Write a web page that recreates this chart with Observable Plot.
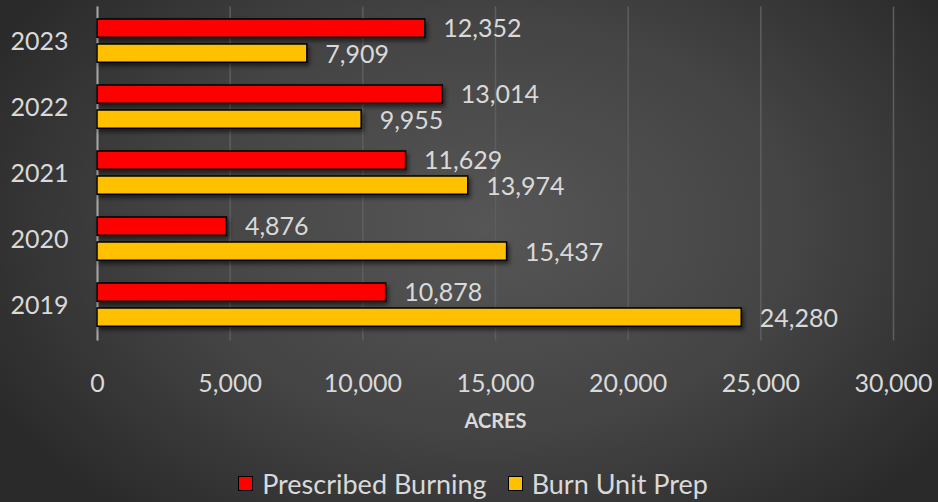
<!DOCTYPE html>
<html><head><meta charset="utf-8">
<script src="https://cdn.jsdelivr.net/npm/d3@7"></script>
<script src="https://cdn.jsdelivr.net/npm/@observablehq/plot@0.6"></script>
<style>
html,body{margin:0;padding:0;width:938px;height:502px;overflow:hidden;}
body{background:radial-gradient(ellipse 60% 75% at 52% 45%, #565656 0%, #444 55%, #2a2a2a 100%);font-family:Lato,"Open Sans",sans-serif;color:#d9d9d9;}
#chart svg{display:block;background:transparent;}
#chart g[aria-label="bar"] rect{filter:drop-shadow(2px 3px 2px rgba(0,0,0,0.55));}
#legend{position:absolute;left:0;top:464px;width:938px;display:flex;justify-content:center;align-items:center;gap:21px;font-size:27px;height:38px;margin-left:4px;}
#legend .item{display:flex;align-items:center;gap:9px;}
#legend .sw{width:13px;height:13px;border:1.5px solid #000;}
</style></head>
<body>
<div id="chart"></div>
<div id="legend"></div>
<script>
const years = ["2023","2022","2021","2020","2019"];
const prescribed = [12352, 13014, 11629, 4876, 10878];
const burnPrep = [7909, 9955, 13974, 15437, 24280];
const seriesNames = ["Prescribed Burning","Burn Unit Prep"];
const seriesColors = ["#ff0000","#ffc000"];
const xTicks = [0,5000,10000,15000,20000,25000,30000];

const rowsP = years.map((y,i)=>({year:y, value:prescribed[i]}));
const rowsB = years.map((y,i)=>({year:y, value:burnPrep[i]}));
const fmt = d3.format(",");
const band = (340.4-6.6)/5;

const plot = Plot.plot({
  width: 938, height: 445,
  marginLeft: 97, marginRight: 45, marginTop: 6.6, marginBottom: 104.6,
  style: {background:"transparent", color:"#d9d9d9", fontFamily:"Lato, 'Open Sans', sans-serif"},
  x: {domain:[0,30000], axis:null},
  y: {domain: years, padding:0, axis:null},
  marks: [
    Plot.gridX(xTicks, {stroke:"#5e5e5e", strokeOpacity:1, strokeWidth:1.5}),
    Plot.ruleX([0], {stroke:"#a6a6a6", strokeWidth:2}),
    Plot.axisY({tickSize:0, tickPadding:29, fontSize:25, fill:"#d9d9d9", label:null}),
    Plot.axisX({ticks:xTicks, tickSize:0, tickPadding:33, fontSize:25, fill:"#d9d9d9", tickFormat:fmt, label:null}),
    Plot.text(["ACRES"], {frameAnchor:"bottom", dy:87, fontSize:20, fontWeight:"bold", fill:"#d9d9d9"}),
    Plot.barX(rowsP, {y:"year", x:"value", fill:seriesColors[0], stroke:"#000", strokeWidth:1.5, insetTop:11, insetBottom:band-11-19}),
    Plot.barX(rowsB, {y:"year", x:"value", fill:seriesColors[1], stroke:"#000", strokeWidth:1.5, insetTop:36, insetBottom:band-36-19}),
    Plot.text(rowsP, {y:"year", x:"value", text:d=>fmt(d.value), dx:18, dy:-12.5, textAnchor:"start", fontSize:25, fill:"#d9d9d9"}),
    Plot.text(rowsB, {y:"year", x:"value", text:d=>fmt(d.value), dx:18, dy:13, textAnchor:"start", fontSize:25, fill:"#d9d9d9"})
  ]
});
document.getElementById("chart").appendChild(plot);

const lg = document.getElementById("legend");
seriesNames.forEach((n,i)=>{
  const it = document.createElement("div"); it.className="item";
  const sw = document.createElement("div"); sw.className="sw"; sw.style.background=seriesColors[i];
  const t = document.createElement("span"); t.textContent=n;
  it.appendChild(sw); it.appendChild(t); lg.appendChild(it);
});
</script>
</body></html>
